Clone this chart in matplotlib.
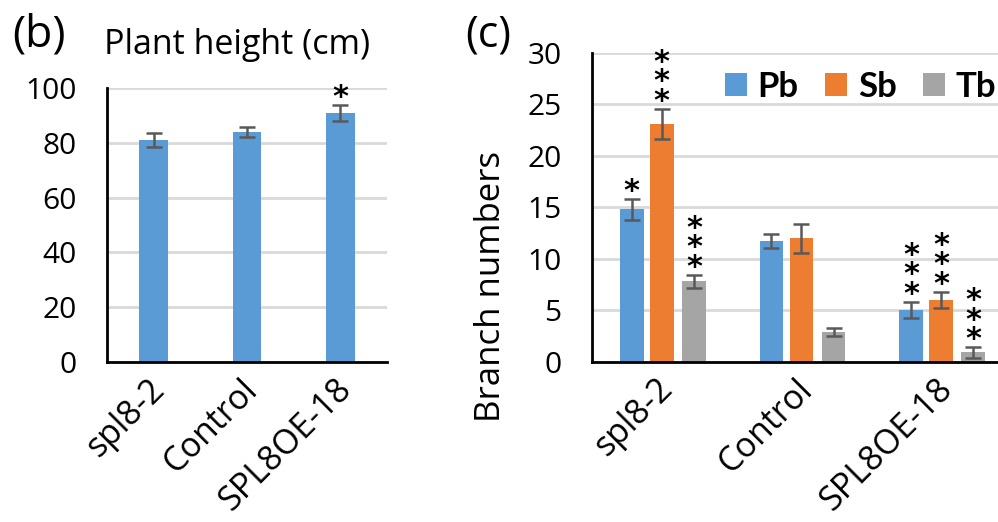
import matplotlib
matplotlib.use("Agg")
import matplotlib.pyplot as plt
from matplotlib.patches import Patch
import matplotlib.transforms as mtrans
import numpy as np

plt.rcParams['font.family'] = ['Open Sans', 'DejaVu Sans']

# ---- data ----
genotypes = ["spl8-2", "Control", "SPL8OE-18"]
height_mean = [81.0, 84.0, 90.8]
height_err = [2.6, 1.9, 3.0]
height_sig = ["", "", "*"]

branch_types = ["Pb", "Sb", "Tb"]
pb_mean = [14.8, 11.7, 5.0]
pb_err = [1.0, 0.65, 0.8]
pb_sig = ["*", "", "***"]
sb_mean = [23.1, 12.0, 6.0]
sb_err = [1.45, 1.4, 0.8]
sb_sig = ["***", "", "***"]
tb_mean = [7.8, 2.9, 0.9]
tb_err = [0.65, 0.4, 0.5]
tb_sig = ["***", "", "***"]

colors = ["#5B9BD5", "#ED7D31", "#A5A5A5"]
err_color = "#595959"
grid_color = "#D9D9D9"

W, H = 998, 522
fig = plt.figure(figsize=(W / 100, H / 100), dpi=100)


def fx(px):
    return px / W


def fy(py):
    return 1 - py / H


def style_axes(ax):
    for s in ["top", "right"]:
        ax.spines[s].set_visible(False)
    for s in ["left", "bottom"]:
        ax.spines[s].set_linewidth(2)
        ax.spines[s].set_color("black")
    ax.yaxis.grid(True, color=grid_color, lw=2)
    ax.set_axisbelow(True)
    ax.tick_params(axis="both", length=0)
    ax.tick_params(axis="y", pad=22, labelsize=21.5)
    ax.tick_params(axis="x", pad=16, labelsize=24.5)


def set_xlabels(ax, labels):
    ax.set_xticklabels(labels, rotation=45, ha="right", va="center",
                       rotation_mode="anchor")
    shift = mtrans.ScaledTranslation(6 / 100, 0, fig.dpi_scale_trans)
    for lab in ax.get_xticklabels():
        lab.set_transform(lab.get_transform() + shift)


def stars(ax, x, ytop, sig, step_pt=14, first_pt=-5):
    for k in range(len(sig)):
        ax.annotate("*", xy=(x, ytop), xytext=(0, first_pt + k * step_pt),
                    textcoords="offset points", ha="center", va="bottom",
                    fontsize=22, fontweight="bold", family=["DejaVu Sans"])


# ---- left panel: plant height ----
ax1 = fig.add_axes([fx(107), fy(362), fx(387 - 107), fy(88) - fy(362)])
style_axes(ax1)
x1 = np.arange(len(genotypes))
ax1.bar(x1, height_mean, width=0.31, color=colors[0], zorder=2)
ax1.errorbar(x1, height_mean, yerr=height_err, fmt="none", ecolor=err_color,
             elinewidth=1.8, capsize=6, capthick=1.8, zorder=3)
for i in range(len(genotypes)):
    if height_sig[i]:
        stars(ax1, x1[i], height_mean[i] + height_err[i], height_sig[i])
ax1.set_xlim(-0.5, 2.5)
ax1.set_ylim(0, 100)
ax1.set_yticks(np.arange(0, 101, 20))
ax1.set_xticks(x1)
set_xlabels(ax1, genotypes)

fig.text(fx(104), fy(54), "Plant height (cm)", fontsize=24.5, ha="left", va="baseline")
fig.text(fx(12), fy(47), "(b)", fontsize=32, ha="left", va="baseline")

# ---- right panel: branch numbers ----
ax2 = fig.add_axes([fx(592), fy(361.7), fx(998 - 592), fy(52.7) - fy(361.7)])
style_axes(ax2)
x2 = np.arange(len(genotypes))
offsets = [-0.215, 0.0, 0.23]
means = [pb_mean, sb_mean, tb_mean]
errs = [pb_err, sb_err, tb_err]
sigs = [pb_sig, sb_sig, tb_sig]
for j in range(3):
    xs = x2 + offsets[j]
    ax2.bar(xs, means[j], width=0.17, color=colors[j], zorder=2, label=branch_types[j])
    ax2.errorbar(xs, means[j], yerr=errs[j], fmt="none", ecolor=err_color,
                 elinewidth=1.8, capsize=6, capthick=1.8, zorder=3)
    for i in range(3):
        if sigs[j][i]:
            stars(ax2, xs[i], means[j][i] + errs[j][i], sigs[j][i])
ax2.set_xlim(-0.5, 2.407)
ax2.set_ylim(0, 30)
ax2.set_yticks(np.arange(0, 31, 5))
ax2.set_xticks(x2)
set_xlabels(ax2, genotypes)

handles = [Patch(facecolor=colors[j], edgecolor="none") for j in range(3)]
fig.legend(handles, branch_types, loc="center", ncol=3, frameon=False,
           bbox_to_anchor=(fx((726 + 995) / 2), fy(87)),
           prop={"size": 25, "weight": "bold", "family": "Lato"},
           handlelength=0.65, handleheight=0.65, handletextpad=0.3,
           columnspacing=0.75, borderpad=0, borderaxespad=0)

fig.text(fx(491), fy(287), "Branch numbers", rotation=90, fontsize=25,
         ha="center", va="center")
fig.text(fx(465), fy(47), "(c)", fontsize=31, ha="left", va="baseline")

fig.savefig("out.png", dpi=100)
